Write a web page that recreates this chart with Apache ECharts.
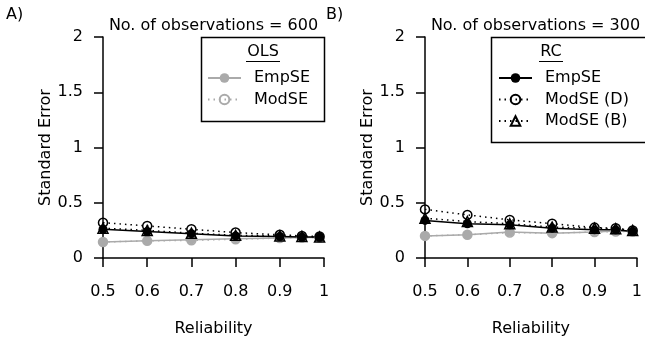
<!DOCTYPE html>
<html>
<head>
<meta charset="utf-8">
<script src="https://cdn.jsdelivr.net/npm/echarts@6/dist/echarts.min.js"></script>
<style>
html,body{margin:0;padding:0;background:#fff;}
#c{width:645px;height:345px;}
</style>
</head>
<body>
<div id="c"></div>
<script>
// ---- data ----
const reliability = [0.5, 0.6, 0.7, 0.8, 0.9, 0.95, 0.99];
const xTickLabels = ['0.5', '0.6', '0.7', '0.8', '0.9', '1'];
const yTickLabels = ['0', '0.5', '1', '1.5', '2'];
const panelTitles = ['No. of observations = 600', 'No. of observations = 300'];
const panelTags = ['A)', 'B)'];
// Panel A (n = 600)
const olsEmpA  = [0.145, 0.155, 0.165, 0.175, 0.18, 0.185, 0.185];
const olsModA  = [0.145, 0.155, 0.16, 0.17, 0.18, 0.185, 0.185];
const rcEmpA   = [0.26, 0.24, 0.22, 0.20, 0.195, 0.19, 0.19];
const rcModDA  = [0.32, 0.29, 0.26, 0.23, 0.21, 0.20, 0.195];
const rcModBA  = [0.27, 0.25, 0.225, 0.205, 0.20, 0.195, 0.19];
// Panel B (n = 300)
const olsEmpB  = [0.20, 0.21, 0.235, 0.225, 0.235, 0.245, 0.24];
const olsModB  = [0.20, 0.21, 0.23, 0.225, 0.235, 0.24, 0.24];
const rcEmpB   = [0.34, 0.31, 0.30, 0.27, 0.255, 0.255, 0.24];
const rcModDB  = [0.44, 0.39, 0.345, 0.31, 0.275, 0.27, 0.25];
const rcModBB  = [0.36, 0.33, 0.31, 0.28, 0.27, 0.265, 0.25];

const FONT = '"DejaVu Sans", "Liberation Sans", Arial, sans-serif';
const FS = 16;
const GRAY = '#aaaaaa';
const pairs = ys => reliability.map((x, i) => [x, ys[i]]);
const lookup = (labels, v) => {
  const s = labels.find(l => Math.abs(parseFloat(l) - v) < 1e-6);
  return s === undefined ? '' : s;
};

const grids = [
  {left: 103, top: 37, width: 221, height: 221},
  {left: 425, top: 37, width: 221, height: 221}
];

function xAxis(i) {
  return {
    type: 'value', gridIndex: i, min: 0.5, max: 1, interval: 0.1,
    name: 'Reliability', nameLocation: 'middle', nameGap: 63,
    nameTextStyle: {fontFamily: FONT, fontSize: FS, color: '#000'},
    axisLine: {show: true, lineStyle: {color: '#000', width: 1.5}},
    axisTick: {show: true, inside: false, length: 9, lineStyle: {color: '#000', width: 1.5}},
    axisLabel: {margin: 26, fontFamily: FONT, fontSize: FS, color: '#000',
      formatter: v => lookup(xTickLabels, v)},
    splitLine: {show: false}
  };
}
function yAxis(i) {
  return {
    type: 'value', gridIndex: i, min: 0, max: 2, interval: 0.5,
    name: 'Standard Error', nameLocation: 'middle', nameGap: 49,
    nameTextStyle: {fontFamily: FONT, fontSize: FS, color: '#000'},
    axisLine: {show: true, lineStyle: {color: '#000', width: 1.5}},
    axisTick: {show: true, inside: false, length: 9, lineStyle: {color: '#000', width: 1.5}},
    axisLabel: {margin: 20, fontFamily: FONT, fontSize: FS, color: '#000',
      formatter: v => lookup(yTickLabels, v)},
    splitLine: {show: false}
  };
}

const DOT = [1.5, 4];
function mk(name, i, ys, color, symbol, filled, dotted) {
  return {
    name: name, type: 'line', xAxisIndex: i, yAxisIndex: i,
    data: pairs(ys), symbol: symbol, symbolSize: symbol === 'triangle' ? 10 : 9,
    showSymbol: true, animation: false, silent: true,
    lineStyle: {color: color, width: 1.5, type: dotted ? DOT : 'solid'},
    itemStyle: filled ? {color: color, borderWidth: 0}
                      : {color: 'rgba(0,0,0,0)', borderColor: color, borderWidth: 1.5}
  };
}

const series = [];
const sets = [
  [olsEmpA, olsModA, rcEmpA, rcModBA, rcModDA],
  [olsEmpB, olsModB, rcEmpB, rcModBB, rcModDB]
];
sets.forEach((s, i) => {
  series.push(mk('OLS EmpSE', i, s[0], GRAY, 'circle', true, false));
  series.push(mk('OLS ModSE', i, s[1], GRAY, 'circle', false, true));
  series.push(mk('RC EmpSE', i, s[2], '#000', 'circle', true, false));
  series.push(mk('RC ModSE (B)', i, s[3], '#000', 'triangle', false, true));
  series.push(mk('RC ModSE (D)', i, s[4], '#000', 'circle', false, true));
});

const legendCommon = {
  orient: 'vertical', top: 69, itemWidth: 33, itemHeight: 12, itemGap: 3.5,
  selectedMode: false, padding: 0,
  textStyle: {fontFamily: FONT, fontSize: FS, color: '#000', lineHeight: 18, padding: [0, 0, 0, 8]},
  formatter: n => n.replace(/^(OLS|RC) /, '')
};

const chart = echarts.init(document.getElementById('c'), null, {renderer: 'canvas'});
chart.setOption({
  backgroundColor: '#fff',
  animation: false,
  grid: grids,
  xAxis: [xAxis(0), xAxis(1)],
  yAxis: [yAxis(0), yAxis(1)],
  title: [
    {text: panelTitles[0], left: 213.5, top: 18, textAlign: 'center', padding: 0,
     textStyle: {fontFamily: FONT, fontSize: FS, fontWeight: 'normal', color: '#000'}},
    {text: panelTitles[1], left: 535.5, top: 18, textAlign: 'center', padding: 0,
     textStyle: {fontFamily: FONT, fontSize: FS, fontWeight: 'normal', color: '#000'}}
  ],
  legend: [
    Object.assign({}, legendCommon, {left: 207, data: ['OLS EmpSE', 'OLS ModSE']}),
    Object.assign({}, legendCommon, {left: 498, data: ['RC EmpSE', 'RC ModSE (D)', 'RC ModSE (B)']})
  ],
  graphic: [
    {type: 'text', left: 6, top: 7, style: {text: panelTags[0], font: FS + 'px ' + FONT, fill: '#000'}},
    {type: 'text', left: 326, top: 7, style: {text: panelTags[1], font: FS + 'px ' + FONT, fill: '#000'}},
    {type: 'rect', shape: {x: 201.5, y: 37.5, width: 123, height: 84},
     style: {fill: '#fff', stroke: '#000', lineWidth: 1.5}, z: -1},
    {type: 'rect', shape: {x: 491.5, y: 37.5, width: 170, height: 105},
     style: {fill: '#fff', stroke: '#000', lineWidth: 1.5}, z: -1},
    {type: 'text', x: 263, y: 52, style: {text: 'OLS', font: FS + 'px ' + FONT, fill: '#000', align: 'center', verticalAlign: 'middle'}},
    {type: 'line', shape: {x1: 246, y1: 61.5, x2: 280, y2: 61.5}, style: {stroke: '#000', lineWidth: 1}},
    {type: 'text', x: 551, y: 52, style: {text: 'RC', font: FS + 'px ' + FONT, fill: '#000', align: 'center', verticalAlign: 'middle'}},
    {type: 'line', shape: {x1: 539, y1: 61.5, x2: 563, y2: 61.5}, style: {stroke: '#000', lineWidth: 1}}
  ],
  series: series
});
</script>
</body>
</html>
